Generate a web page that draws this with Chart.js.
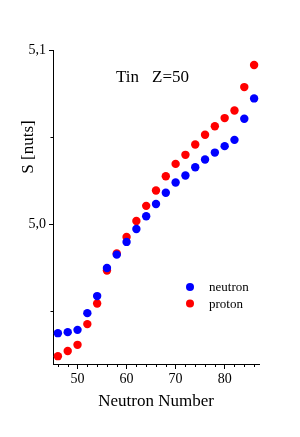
<!DOCTYPE html>
<html lang="en">

<head>
  <meta charset="UTF-8">
  <title>Tin Z=50</title>
  <style>
    html, body { margin: 0; padding: 0; background: #fff; }
    #wrap { width: 300px; height: 437px; position: relative; }
  </style>
</head>

<body>
  <div id="wrap">
    <canvas id="chart"></canvas>
  </div>

  <script src="https://cdn.jsdelivr.net/npm/chart.js"></script>
  <script>
    // neutron number on the x axis
    const neutronNumbers = [46, 48, 50, 52, 54, 56, 58, 60, 62, 64, 66, 68, 70, 72, 74, 76, 78, 80, 82, 84, 86];

    // S [nuts] values
    const neutronValues = [4.9374, 4.9380, 4.9393, 4.9489, 4.9587, 4.9748, 4.9825, 4.9898, 4.9972, 5.0045,
      5.0116, 5.0180, 5.0239, 5.0279, 5.0327, 5.0371, 5.0411, 5.0448, 5.0484, 5.0605, 5.0722];
    const protonValues = [4.9242, 4.9272, 4.9307, 4.9426, 4.9544, 4.9734, 4.9832, 4.9926, 5.0018, 5.0105,
      5.0193, 5.0275, 5.0346, 5.0398, 5.0457, 5.0513, 5.0562, 5.0609, 5.0653, 5.0787, 5.0914];

    // ticks
    const xMajorTicks = [50, 60, 70, 80];
    const xMinorTicks = [46, 48, 52, 54, 56, 58, 62, 64, 66, 68, 72, 74, 76, 78, 82, 84, 86];
    const yMajorTicks = [5.0, 5.1];
    const yMinorTicks = [4.95, 5.05];

    const serif = '"Liberation Serif", "DejaVu Serif", serif';
    const black = '#000';

    // minor ticks, labels and legend drawn on top
    const extras = {
      id: 'extras',
      afterDraw(chart) {
        const ctx = chart.ctx;
        const xs = chart.scales.x;
        const ys = chart.scales.y;
        const area = chart.chartArea;
        ctx.save();
        ctx.strokeStyle = black;
        ctx.lineWidth = 1;
        ctx.beginPath();
        xMinorTicks.forEach(v => {
          const px = Math.round(xs.getPixelForValue(v)) + 0.5;
          ctx.moveTo(px, area.bottom);
          ctx.lineTo(px, area.bottom + 3);
        });
        yMinorTicks.forEach(v => {
          const py = Math.round(ys.getPixelForValue(v)) + 0.5;
          ctx.moveTo(area.left, py);
          ctx.lineTo(area.left - 2.5, py);
        });
        ctx.stroke();

        // title inside the plot
        ctx.fillStyle = black;
        ctx.font = '17px ' + serif;
        ctx.textBaseline = 'alphabetic';
        ctx.textAlign = 'left';
        ctx.fillText('Tin', 116, 82);
        ctx.fillText('Z=50', 152, 82);

        // y axis title (sits above centre)
        ctx.save();
        ctx.translate(33, 147);
        ctx.rotate(-Math.PI / 2);
        ctx.textAlign = 'center';
        ctx.fillText('S [nuts]', 0, 0);
        ctx.restore();

        // legend
        ctx.font = '13px ' + serif;
        chart.data.datasets.forEach((ds, i) => {
          const y = 287 + i * 16.5;
          ctx.fillStyle = ds.backgroundColor;
          ctx.beginPath();
          ctx.arc(190, y, 4, 0, Math.PI * 2);
          ctx.fill();
          ctx.fillStyle = black;
          ctx.fillText(ds.label, 209, y + 4);
        });
        ctx.restore();
      }
    };

    const chartCanvas = document.getElementById('chart');
    new Chart(chartCanvas, {
      type: 'scatter',
      data: {
        datasets: [
          {
            label: 'neutron',
            data: neutronNumbers.map((n, i) => ({ x: n, y: neutronValues[i] })),
            backgroundColor: '#0000ff',
            borderColor: '#0000ff',
            pointRadius: 4.2,
            borderWidth: 0,
          },
          {
            label: 'proton',
            data: neutronNumbers.map((n, i) => ({ x: n, y: protonValues[i] })),
            backgroundColor: '#ff0000',
            borderColor: '#ff0000',
            pointRadius: 4.2,
            borderWidth: 0,
          },
        ],
      },
      options: {
        responsive: true,
        maintainAspectRatio: false,
        animation: false,
        layout: {
          padding: { top: 50, right: 41, left: 0, bottom: 21 },
        },
        plugins: {
          legend: { display: false },
          tooltip: { enabled: false },
        },
        scales: {
          x: {
            type: 'linear',
            min: 45,
            max: 87,
            afterBuildTicks: scale => {
              scale.ticks = xMajorTicks.map(v => ({ value: v }));
            },
            afterFit: scale => { scale.height = 52; },
            border: { display: true, color: black, width: 1 },
            grid: { drawOnChartArea: false, tickLength: 5, tickColor: black },
            ticks: {
              color: black,
              padding: 2,
              maxRotation: 0,
              font: { family: serif, size: 14 },
            },
            title: {
              display: true,
              text: 'Neutron Number',
              color: black,
              padding: { top: 4 },
              font: { family: serif, size: 17 },
            },
          },
          y: {
            min: 4.9197,
            max: 5.1,
            afterBuildTicks: scale => {
              scale.ticks = yMajorTicks.map(v => ({ value: v }));
            },
            afterFit: scale => { scale.width = 53; },
            border: { display: true, color: black, width: 1 },
            grid: { drawOnChartArea: false, tickLength: 4, tickColor: black },
            ticks: {
              color: black,
              padding: 3,
              font: { family: serif, size: 14 },
              callback: v => v.toFixed(1).replace('.', ','),
            },
          },
        },
      },
      plugins: [extras],
    });
  </script>
</body>

</html>
